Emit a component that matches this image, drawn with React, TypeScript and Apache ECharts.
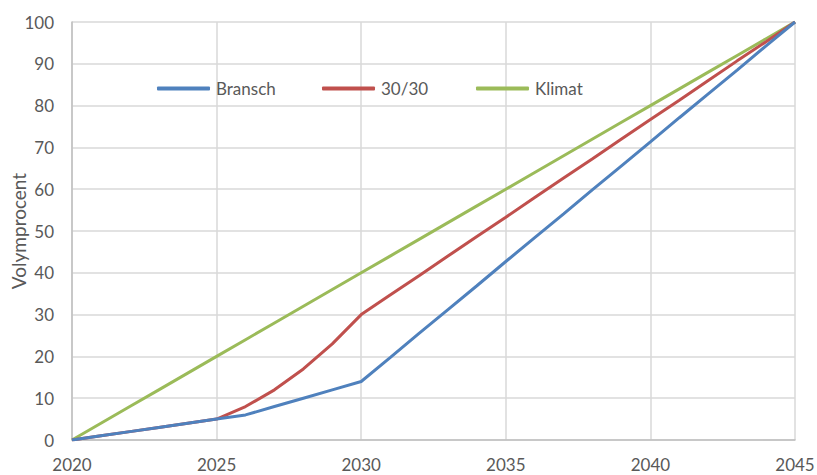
import React, { useEffect, useRef } from "react";
import * as echarts from "echarts";

const years = [2020, 2021, 2022, 2023, 2024, 2025, 2026, 2027, 2028, 2029, 2030, 2031, 2032, 2033, 2034, 2035, 2036, 2037, 2038, 2039, 2040, 2041, 2042, 2043, 2044, 2045];
const bransch = [0, 1, 2, 3, 4, 5, 6, 8, 10, 12, 14, 19.7, 25.5, 31.2, 36.9, 42.7, 48.4, 54.1, 59.9, 65.6, 71.3, 77.1, 82.8, 88.5, 94.3, 100];
const trettio = [0, 1, 2, 3, 4, 5, 8, 12, 17, 23, 30, 34.7, 39.3, 44, 48.7, 53.3, 58, 62.7, 67.3, 72, 76.7, 81.3, 86, 90.7, 95.3, 100];
const klimat = [0, 4, 8, 12, 16, 20, 24, 28, 32, 36, 40, 44, 48, 52, 56, 60, 64, 68, 72, 76, 80, 84, 88, 92, 96, 100];

const seriesNames = ["Bransch", "30/30", "Klimat"];
const colors = ["#4f81bd", "#c0504d", "#9bbb59"];
const legendLefts = [152, 317, 471];
const FONT = "Lato, 'Open Sans', sans-serif";

export default function App() {
  const ref = useRef<HTMLDivElement>(null);
  useEffect(() => {
    if (!ref.current) return;
    const chart = echarts.init(ref.current, undefined, { renderer: "svg" });
    const values = [bransch, trettio, klimat];
    chart.setOption({
      animation: false,
      textStyle: { fontFamily: FONT },
      grid: { left: 72, right: 22, top: 22, bottom: 35, containLabel: false, outerBoundsMode: "none" },
      legend: seriesNames.map((n, i) => ({
        data: [n],
        left: legendLefts[i],
        top: 75,
        icon: "roundRect",
        itemWidth: 53,
        itemHeight: 4,
        itemGap: 0,
        textStyle: { fontFamily: FONT, fontSize: 17, color: "#595959", padding: [0, 0, 0, 1] },
      })),
      xAxis: {
        type: "value",
        min: 2020,
        max: 2045,
        interval: 5,
        axisLine: { show: true, lineStyle: { color: "#bfbfbf", width: 1.5 } },
        axisTick: { show: false },
        splitLine: { show: true, lineStyle: { color: "#d9d9d9", width: 1.5 } },
        axisLabel: { color: "#595959", fontSize: 17, fontFamily: FONT, margin: 16, formatter: (v: number) => String(v) },
      },
      yAxis: {
        type: "value",
        min: 0,
        max: 100,
        interval: 10,
        name: "Volymprocent",
        nameLocation: "middle",
        nameRotate: 90,
        nameGap: 44,
        nameMoveOverlap: false,
        nameTextStyle: { color: "#595959", fontSize: 19, fontFamily: FONT },
        axisLine: { show: true, lineStyle: { color: "#bfbfbf", width: 1.5 } },
        axisTick: { show: false },
        splitLine: { show: true, lineStyle: { color: "#d9d9d9", width: 1.5 } },
        axisLabel: { color: "#595959", fontSize: 17, fontFamily: FONT, margin: 18 },
      },
      series: seriesNames.map((n, i) => ({
        name: n,
        type: "line",
        data: years.map((y, j) => [y, values[i][j]]),
        symbol: "none",
        color: colors[i],
        lineStyle: { width: 3, color: colors[i] },
        z: 3 - i,
      })),
    });
    return () => chart.dispose();
  }, []);
  return <div ref={ref} style={{ width: 817, height: 475, position: "absolute", left: 0, top: 0, background: "#fff" }} />;
}
